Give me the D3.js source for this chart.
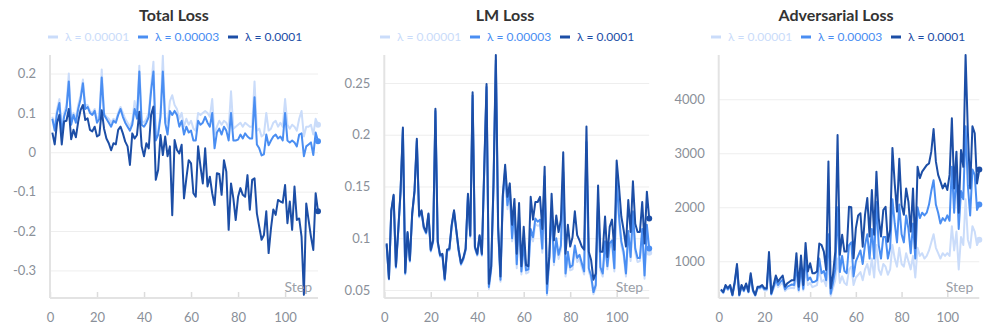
<!DOCTYPE html>
<html>
<head>
<meta charset="utf-8">
<script src="https://cdn.jsdelivr.net/npm/d3@7"></script>
<style>
  body { margin: 0; background: #fff; }
  svg { display: block; font-family: Lato, "Noto Sans", sans-serif; }
</style>
</head>
<body>
<svg id="chart" width="997" height="335"></svg>
<script>
// Legend labels and colours (light -> dark)
const lambdas = ['λ = 0.00001', 'λ = 0.00003', 'λ = 0.0001'];
const colors = ['#cadcfa', '#4a8ef2', '#1c4ea6'];

// Steps 1..114
const steps = d3.range(1, 115);
const xTicks = [0, 20, 40, 60, 80, 100];

// Total Loss
const totalLow = [
  0.09,0.065,0.11,0.135,0.06,0.1,0.12,0.2,0.08,0.1,
  0.085,0.12,0.145,0.185,0.12,0.12,0.105,0.1,0.11,0.085,
  0.09,0.21,0.1,0.09,0.085,0.075,0.085,0.08,0.1,0.115,
  0.1,0.085,0.075,0.065,0.08,0.13,0.09,0.22,0.08,0.075,
  0.085,0.1,0.17,0.23,0.04,0.055,0.1,0.245,0.09,0.075,
  0.13,0.145,0.12,0.11,0.085,0.1,0.065,0.085,0.07,0.08,
  0.06,0.055,0.1,0.095,0.1,0.105,0.1,0.09,0.135,0.045,
  0.065,0.08,0.07,0.08,0.075,0.06,0.155,0.06,0.065,0.07,
  0.075,0.065,0.075,0.07,0.065,0.065,0.18,0.055,0.06,0.04,
  0.045,0.1,0.055,0.06,0.075,0.08,0.065,0.075,0.065,0.135,
  0.07,0.06,0.07,0.065,0.055,0.085,0.105,0.04,0.065,0.065,
  0.07,0.045,0.085,0.07
];
const totalMid = [
  0.085,0.055,0.1,0.125,0.05,0.09,0.11,0.18,0.07,0.095,
  0.075,0.11,0.135,0.175,0.11,0.115,0.1,0.095,0.105,0.075,
  0.085,0.19,0.095,0.085,0.075,0.065,0.08,0.075,0.095,0.11,
  0.09,0.075,0.065,0.055,0.07,0.11,0.085,0.205,0.07,0.065,
  0.075,0.09,0.155,0.205,0.03,0.045,0.09,0.205,0.075,0.045,
  0.105,0.095,0.105,0.095,0.065,0.08,0.045,0.065,0.05,0.055,
  0.03,0.03,0.08,0.07,0.075,0.09,0.075,0.065,0.1,0.01,
  0.05,0.06,0.045,0.065,0.055,0.03,0.1,0.03,0.03,0.032,
  0.045,0.035,0.048,0.04,0.035,0.035,0.14,0.02,0.01,-0.008,
  -0.005,0.045,0.018,0.03,0.04,0.045,0.035,0.04,0.03,0.1,
  0.03,0.025,0.03,0.025,0.015,0.045,0.048,-0.01,0.015,0.02,
  0.025,-0.007,0.05,0.028
];
const totalHigh = [
  0.05,0.02,0.075,0.095,0.02,0.078,0.08,0.11,0.033,0.057,
  0.038,0.078,0.107,0.12,0.082,0.086,0.057,0.053,0.065,0.04,
  0.044,0.107,0.06,0.035,0.023,0.005,0.023,0.02,0.057,0.065,
  0.048,0.027,0.015,-0.032,0.048,0.035,0.044,0.103,0.015,-0.01,
  0.023,0.01,0.095,0.116,-0.07,-0.045,0.044,-0.007,0.04,-0.01,
  0.015,-0.16,0.031,0.006,-0.003,0.019,-0.117,-0.066,-0.02,-0.028,
  -0.104,-0.113,0.015,-0.036,-0.079,0.01,-0.087,-0.062,-0.104,-0.134,
  -0.053,-0.055,-0.108,-0.02,-0.049,-0.197,-0.079,-0.117,-0.172,-0.113,
  -0.091,-0.108,-0.113,-0.058,-0.146,-0.07,-0.066,-0.155,-0.189,-0.222,
  -0.21,-0.15,-0.256,-0.193,-0.145,-0.159,-0.121,-0.125,-0.128,-0.083,
  -0.18,-0.125,-0.197,-0.087,-0.172,-0.168,-0.214,-0.362,-0.13,-0.172,
  -0.214,-0.248,-0.104,-0.15
];

// LM Loss
const lmLow = [
  0.093,0.06,0.125,0.14,0.071,0.106,0.144,0.203,0.065,0.104,
  0.077,0.122,0.144,0.192,0.12,0.125,0.109,0.104,0.122,0.087,
  0.096,0.221,0.095,0.082,0.083,0.059,0.087,0.088,0.111,0.125,
  0.106,0.087,0.074,0.079,0.088,0.139,0.101,0.235,0.09,0.083,
  0.101,0.083,0.163,0.243,0.051,0.069,0.149,0.268,0.106,0.058,
  0.136,0.16,0.128,0.143,0.097,0.126,0.071,0.116,0.065,0.091,
  0.066,0.067,0.104,0.097,0.114,0.112,0.113,0.086,0.155,0.045,
  0.078,0.124,0.074,0.096,0.08,0.089,0.158,0.063,0.083,0.069,
  0.07,0.089,0.077,0.08,0.072,0.065,0.186,0.068,0.061,0.046,
  0.052,0.13,0.069,0.063,0.093,0.07,0.091,0.094,0.068,0.152,
  0.117,0.093,0.083,0.063,0.103,0.078,0.121,0.086,0.077,0.078,
  0.104,0.061,0.108,0.086
];
const lmMid = [
  0.094,0.061,0.126,0.141,0.072,0.107,0.145,0.205,0.066,0.105,
  0.078,0.123,0.145,0.194,0.121,0.126,0.11,0.105,0.123,0.088,
  0.097,0.223,0.096,0.083,0.084,0.06,0.088,0.089,0.112,0.126,
  0.107,0.088,0.075,0.08,0.089,0.141,0.102,0.238,0.091,0.084,
  0.102,0.084,0.165,0.246,0.053,0.071,0.151,0.272,0.108,0.06,
  0.14,0.165,0.132,0.148,0.1,0.13,0.075,0.12,0.068,0.095,
  0.069,0.07,0.109,0.101,0.119,0.116,0.118,0.09,0.16,0.047,
  0.082,0.129,0.077,0.1,0.084,0.093,0.164,0.066,0.087,0.072,
  0.074,0.093,0.081,0.084,0.076,0.068,0.193,0.071,0.064,0.048,
  0.055,0.135,0.072,0.066,0.097,0.073,0.095,0.098,0.071,0.158,
  0.122,0.097,0.087,0.066,0.107,0.082,0.126,0.09,0.081,0.081,
  0.109,0.064,0.113,0.09
];
const lmHigh = [
  0.095,0.061,0.127,0.142,0.073,0.108,0.146,0.207,0.067,0.106,
  0.079,0.124,0.146,0.196,0.122,0.127,0.111,0.106,0.124,0.089,
  0.098,0.225,0.097,0.084,0.085,0.061,0.089,0.09,0.113,0.127,
  0.108,0.089,0.076,0.081,0.09,0.143,0.103,0.241,0.092,0.085,
  0.103,0.085,0.167,0.249,0.056,0.073,0.153,0.277,0.111,0.063,
  0.142,0.171,0.14,0.153,0.113,0.138,0.085,0.134,0.073,0.111,
  0.074,0.073,0.14,0.118,0.135,0.135,0.14,0.109,0.169,0.056,
  0.082,0.143,0.098,0.122,0.106,0.118,0.183,0.085,0.113,0.092,
  0.101,0.126,0.103,0.098,0.092,0.089,0.208,0.087,0.079,0.06,
  0.066,0.151,0.087,0.087,0.121,0.082,0.111,0.118,0.089,0.175,
  0.15,0.121,0.108,0.092,0.137,0.106,0.155,0.114,0.106,0.106,
  0.135,0.095,0.145,0.119
];

// Adversarial Loss
const advLow = [
  460,410,520,470,520,360,570,850,360,520,
  440,550,420,700,440,360,490,490,520,460,
  460,950,380,490,600,520,570,600,450,490,
  500,510,500,750,440,760,460,850,560,600,
  520,540,560,850,620,650,540,1000,360,500,
  650,1050,600,720,600,560,850,900,560,700,
  750,800,650,850,950,750,1050,700,1300,850,
  750,950,900,750,850,1300,1050,900,1250,950,
  900,1150,1000,850,1100,700,1250,1100,1150,1050,
  1100,1200,1350,1500,1250,1150,1050,1150,1100,1150,
  1100,1650,1200,1550,850,1450,1300,2150,1400,1250,
  1650,1550,1300,1400
];
const advMid = [
  470,420,540,480,540,370,600,900,370,540,
  450,570,430,740,450,370,510,510,540,480,
  480,1050,390,520,650,560,620,660,480,530,
  550,570,560,900,470,900,490,1050,650,700,
  610,620,650,1050,780,820,650,1500,400,600,
  850,2000,800,1100,820,780,1300,1350,720,1000,
  1100,1200,950,1300,1500,1050,1600,1050,2100,1300,
  1050,1450,1450,1050,1250,2150,1700,1350,2050,1500,
  1350,1850,1600,1150,1700,1050,2000,1800,1900,1850,
  1900,2050,2300,2500,2050,1900,1700,1800,1750,1850,
  1750,2750,1900,2700,1600,2300,2150,3500,2400,1850,
  2700,2600,1950,2050
];
const advHigh = [
  480,430,560,500,560,380,620,950,380,560,
  470,590,440,780,470,380,530,530,560,500,
  500,1170,410,560,735,620,685,735,530,590,
  620,650,650,1150,530,1105,560,1340,810,965,
  780,780,810,1330,1300,1180,840,2850,500,750,
  1180,3340,1120,1490,1180,1180,2010,2000,1055,1610,
  1850,1890,1270,1860,2170,1460,2320,1490,2660,1800,
  1460,1950,2010,1360,1580,3100,2440,1920,2900,2040,
  1860,2350,2100,1550,2350,1240,2750,2540,2660,2720,
  2780,2810,3030,3450,2850,2600,2480,2350,2440,2320,
  2600,3650,2350,3030,1900,3060,2750,4820,3400,2350,
  3500,3370,2440,2700
];

// Y tick values per panel
const totalTicks = [-0.3, -0.2, -0.1, 0, 0.1, 0.2];
const lmTicks = [0.05, 0.1, 0.15, 0.2, 0.25];
const advTicks = [1000, 2000, 3000, 4000];

const panels = [
  { title: 'Total Loss', series: [totalLow, totalMid, totalHigh], yDomain: [-0.37, 0.247],
    ticks: totalTicks, left: 50, right: 318, center: 174, legendX: 48 },
  { title: 'LM Loss', series: [lmLow, lmMid, lmHigh], yDomain: [0.0423, 0.277],
    ticks: lmTicks, left: 384.3, right: 649.2, center: 505, legendX: 380 },
  { title: 'Adversarial Loss', series: [advLow, advMid, advHigh], yDomain: [320, 4820],
    ticks: advTicks, left: 718.7, right: 979.3, center: 836, legendX: 711 }
];

const plotTop = 55;
const plotBottom = 298;
const svg = d3.select('#chart');

panels.forEach(p => {
  const x = d3.scaleLinear().domain([0, 114]).range([p.left, p.right]);
  const y = d3.scaleLinear().domain(p.yDomain).range([plotBottom, plotTop]);
  const g = svg.append('g');

  // Title
  g.append('text')
    .attr('x', p.center)
    .attr('y', 21)
    .attr('text-anchor', 'middle')
    .attr('font-size', 16)
    .attr('font-weight', 700)
    .attr('fill', '#333')
    .text(p.title);

  // Legend
  const legend = g.selectAll('.legend')
    .data(lambdas)
    .enter()
    .append('g')
    .attr('transform', (d, i) => `translate(${p.legendX + i * 90}, 37)`);
  legend.append('line')
    .attr('x1', 0).attr('x2', 10)
    .attr('stroke', (d, i) => colors[i])
    .attr('stroke-width', 3);
  legend.append('text')
    .attr('x', 17)
    .attr('dy', '0.35em')
    .attr('font-size', 12)
    .attr('fill', (d, i) => colors[i])
    .text(d => d);

  // Y grid + labels
  const yAxis = g.append('g')
    .attr('transform', `translate(${p.left},0)`)
    .call(d3.axisLeft(y).tickValues(p.ticks)
      .tickSize(-(p.right - p.left)).tickPadding(14)
      .tickFormat(d => String(+d.toFixed(3))));
  yAxis.select('.domain').remove();
  yAxis.selectAll('line').attr('stroke', '#eeeeee');
  yAxis.selectAll('text').attr('fill', '#8a9099').attr('font-size', 13)
    .attr('font-family', 'Lato, "Noto Sans", sans-serif');

  // X axis ticks + labels
  const xAxis = g.append('g')
    .attr('transform', `translate(0,${plotBottom})`)
    .call(d3.axisBottom(x).tickValues(xTicks)
      .tickSizeInner(-6).tickSizeOuter(0).tickPadding(15));
  xAxis.select('.domain').remove();
  xAxis.selectAll('line').attr('stroke', '#dcdcdc').attr('stroke-width', 1.5);
  xAxis.selectAll('text').attr('fill', '#8a9099').attr('font-size', 13)
    .attr('font-family', 'Lato, "Noto Sans", sans-serif');

  // Axis lines
  g.append('line')
    .attr('x1', p.left).attr('x2', p.left)
    .attr('y1', plotTop).attr('y2', plotBottom)
    .attr('stroke', '#e3e3e3').attr('stroke-width', 2);
  g.append('line')
    .attr('x1', p.left).attr('x2', p.right)
    .attr('y1', plotBottom).attr('y2', plotBottom)
    .attr('stroke', '#e3e3e3').attr('stroke-width', 2);

  // Lines
  const line = d3.line()
    .x((d, i) => x(steps[i]))
    .y(d => y(d));
  p.series.forEach((s, i) => {
    g.append('path')
      .datum(s)
      .attr('fill', 'none')
      .attr('stroke', colors[i])
      .attr('stroke-width', 2)
      .attr('stroke-linejoin', 'round')
      .attr('d', line);
    g.append('circle')
      .attr('cx', x(steps[s.length - 1]))
      .attr('cy', y(s[s.length - 1]))
      .attr('r', 3)
      .attr('fill', colors[i]);
  });

  // Step label
  g.append('text')
    .attr('x', p.right - 6)
    .attr('y', 292)
    .attr('text-anchor', 'end')
    .attr('font-size', 14)
    .attr('fill', '#9aa0a8')
    .text('Step');
});
</script>
</body>
</html>
